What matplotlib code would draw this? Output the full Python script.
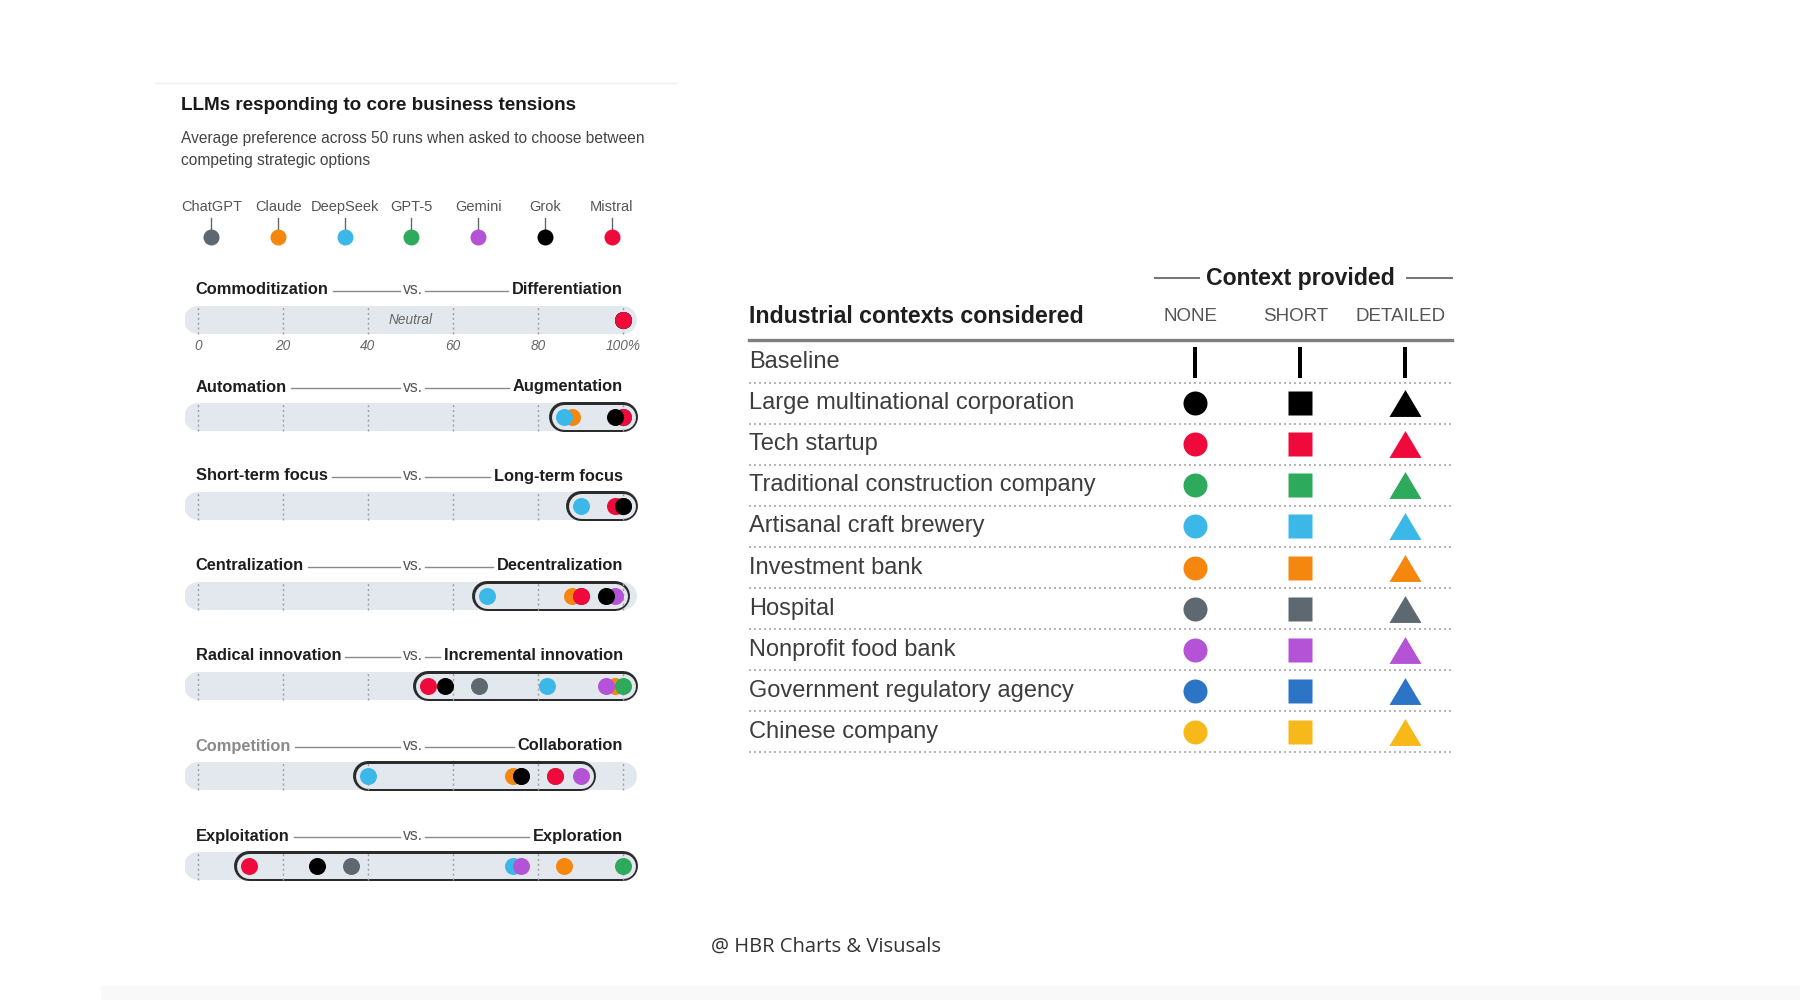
import matplotlib
matplotlib.use("Agg")
import matplotlib.pyplot as plt
from matplotlib.lines import Line2D
from matplotlib.patches import Rectangle
from matplotlib.transforms import blended_transform_factory

W, H = 1800, 1000
SANS = ["Liberation Sans", "DejaVu Sans"]

# ---- data: left panel ----
models = ["ChatGPT", "Claude", "DeepSeek", "GPT-5", "Gemini", "Grok", "Mistral"]
model_colors = ["#5d6870", "#f5870f", "#3cb8e8", "#2eaa5c", "#b453d6", "#000000", "#ef0a3b"]

tension_left = ["Commoditization", "Automation", "Short-term focus", "Centralization",
                "Radical innovation", "Competition", "Exploitation"]
tension_right = ["Differentiation", "Augmentation", "Long-term focus", "Decentralization",
                 "Incremental innovation", "Collaboration", "Exploration"]

# average preference (%) for the right-hand option, one value per tension
chatgpt = [100, 100, 100, 90, 66, 76, 36]
claude = [100, 88, 99, 88, 98, 74, 86]
deepseek = [100, 86, 90, 68, 82, 40, 74]
gpt5 = [100, 100, 100, 96, 100, 84, 100]
gemini = [100, 100, 100, 98, 96, 90, 76]
grok = [100, 98, 100, 96, 58, 76, 28]
mistral = [100, 100, 98, 90, 54, 84, 12]
prefs = [chatgpt, claude, deepseek, gpt5, gemini, grok, mistral]

scale_ticks = [0, 20, 40, 60, 80, 100]
scale_labels = ["0", "20", "40", "60", "80", "100%"]

# ---- data: right table ----
contexts = ["Baseline", "Large multinational corporation", "Tech startup",
            "Traditional construction company", "Artisanal craft brewery",
            "Investment bank", "Hospital", "Nonprofit food bank",
            "Government regulatory agency", "Chinese company"]
context_colors = ["#000000", "#000000", "#ef0a3b", "#2eaa5c", "#3cb8e8",
                  "#f5870f", "#5d6870", "#b453d6", "#2b74c6", "#f6b919"]
levels = ["NONE", "SHORT", "DETAILED"]
level_markers = ["o", "s", "^"]


def box(x0, y0, x1, y1):
    return [x0 / W, 1 - y1 / H, (x1 - x0) / W, (y1 - y0) / H]


def pt(px):
    return px * 72 / 100


fig = plt.figure(figsize=(18, 10), dpi=100)
fig.patch.set_facecolor("white")

# faint page decorations
fig.add_artist(Line2D([155 / W, 677 / W], [1 - 83 / H, 1 - 83 / H], color="#eeeeee", lw=1))
fig.add_artist(Rectangle((101 / W, 0), 1699 / W, 14 / H, color="#f9f9f9", lw=0))

# ---- left panel titles ----
fig.text(181 / W, 1 - 105 / H, "LLMs responding to core business tensions", family=SANS,
         weight="bold", fontsize=13.6, color="#1a1a1a", va="center")
fig.text(181 / W, 1 - 138 / H, "Average preference across 50 runs when asked to choose between",
         family=SANS, fontsize=11.2, color="#444444", va="center")
fig.text(181 / W, 1 - 160 / H, "competing strategic options",
         family=SANS, fontsize=11.2, color="#444444", va="center")

# legend
lax = fig.add_axes(box(178, 195, 645, 247))
lax.set_xlim(-0.5, len(models) - 0.5)
lax.set_ylim(247, 195)
lax.axis("off")
for i, (m, c) in enumerate(zip(models, model_colors)):
    lax.text(i, 207, m, family=SANS, fontsize=10.5, color="#555555", ha="center", va="center")
    lax.plot([i, i], [218, 230], color="#666666", lw=1)
    lax.plot(i, 237, "o", ms=pt(16), color=c, mec="none")

# ---- tension rows ----
BAR = "#e3e7ee"
bar_y = [320, 417, 506, 596, 686, 776, 866]
X0, X100 = 198, 623
ppu = (X100 - X0) / 100
draw_order = ["Claude", "ChatGPT", "DeepSeek", "Gemini", "GPT-5", "Mistral", "Grok"]
header_sets = []
for r, yc in enumerate(bar_y):
    ax = fig.add_axes(box(185, yc - 18, 638, yc + 18))
    ax.set_xlim((185 - X0) / ppu, (638 - X0) / ppu)
    ax.set_ylim(-1, 1)
    ax.axis("off")
    vals = [p[r] for p in prefs]

    ax.plot([0, 100], [0, 0], color=BAR, lw=pt(28), solid_capstyle="round", zorder=1)
    lo, hi = min(vals), max(vals)
    ax.plot([lo, hi], [0, 0], color="#2b2b2b", lw=pt(30), solid_capstyle="round", zorder=2)
    ax.plot([lo, hi], [0, 0], color=BAR, lw=pt(25), solid_capstyle="round", zorder=3)
    ax.vlines(scale_ticks, -0.75, 0.75, colors="#a0a0a0", linestyles=(0, (1.5, 2)), lw=1, zorder=4)

    order = list(draw_order)
    if r == 0:
        order.remove("Mistral")
        order.append("Mistral")
    for k, name in enumerate(order):
        i = models.index(name)
        ax.plot(vals[i], 0, "o", ms=pt(17), color=model_colors[i], mec="none", zorder=5 + k)

    if r == 0:
        ax.text(50, 0, "Neutral", family=SANS, style="italic", fontsize=9.8,
                color="#666666", ha="center", va="center", zorder=4)
        for v, lab in zip(scale_ticks, scale_labels):
            ax.text(v, -1.46, lab, family=SANS, style="italic", fontsize=9.8,
                    color="#666666", ha="center", va="center", clip_on=False)

    hy = 1 + 12 / 18
    lcol = "#8a8a8a" if tension_left[r] == "Competition" else "#1e1e1e"
    t1 = ax.text(-0.5, hy, tension_left[r], family=SANS, weight="bold", fontsize=11.8,
                 color=lcol, ha="left", va="center", clip_on=False)
    t2 = ax.text(50.6, hy, "vs.", family=SANS, fontsize=11.3, color="#555555",
                 ha="center", va="center", clip_on=False)
    t3 = ax.text(100, hy, tension_right[r], family=SANS, weight="bold", fontsize=11.8,
                 color="#1e1e1e", ha="right", va="center", clip_on=False)
    header_sets.append((t1, t2, t3))

# ---- right table ----
C0, CSTEP, R0, RSTEP = 1195, 105.0, 362, 41.1
TL, TR, TT, TB = 749, 1452, 340, 752
tax = fig.add_axes(box(TL, TT, TR, TB))
tax.set_xlim((TL - C0) / CSTEP, (TR - C0) / CSTEP)
tax.set_ylim((TB - R0) / RSTEP, (TT - R0) / RSTEP)
tax.axis("off")
tr = blended_transform_factory(tax.transAxes, tax.transData)

tri = [(0, 0.84), (-1, -0.84), (1, -0.84), (0, 0.84)]
marker_shape = {"o": ("o", 24), "s": ("s", 24), "^": (tri, 32)}

tax.plot([0, 1], [1, 1], transform=tax.transAxes, color="#7f7f7f", lw=2.4, clip_on=False)
for i, (name, c) in enumerate(zip(contexts, context_colors)):
    tax.text(0, i, name, transform=tr, family=SANS, fontsize=17, color="#3d3d3d",
             ha="left", va="center")
    tax.plot([0, 1], [i + 0.5, i + 0.5], transform=tr, color="#a8a8a8", lw=1.2,
             ls=(0, (1.2, 1.8)), clip_on=False)
    for j, mk in enumerate(level_markers):
        if i == 0:
            tax.plot(j, i, marker="|", ms=pt(31), mew=pt(4), color=c)
        else:
            shape, size = marker_shape[mk]
            tax.plot(j, i, marker=shape, ms=pt(size), color=c, mec="none")

hdr_y = (316 - R0) / RSTEP
tax.text(0, hdr_y, "Industrial contexts considered", transform=tr, family=SANS,
         weight="bold", fontsize=16.7, color="#1e1e1e", ha="left", va="center")
for j, lev in enumerate(levels):
    tax.text(j - 0.04, hdr_y, lev, family=SANS, fontsize=13.5, color="#555555",
             ha="center", va="center", clip_on=False)
ctx_y = (278 - R0) / RSTEP
ctx = tax.text(1, ctx_y, "Context provided", family=SANS, weight="bold", fontsize=16.6,
               color="#1e1e1e", ha="center", va="center", clip_on=False)

# footer
fig.text(826 / W, 1 - 947 / H, "@ HBR Charts & Visusals", family=["Open Sans", "DejaVu Sans"],
         fontsize=14.5, color="#333333", ha="center", va="center")

# connector lines need the rendered text extents
fig.canvas.draw()
inv = fig.transFigure.inverted()


def hline(xa, xb, y, color="#8a8a8a", lw=1):
    (fa, fy), (fb, _) = inv.transform([(xa, y), (xb, y)])
    fig.add_artist(Line2D([fa, fb], [fy, fy], color=color, lw=lw))


for t1, t2, t3 in header_sets:
    b1, b2, b3 = (t.get_window_extent() for t in (t1, t2, t3))
    y = (b2.y0 + b2.y1) / 2 - 1
    hline(b1.x1 + 4, b2.x0 - 3, y)
    hline(b2.x1 + 2, b3.x0 - 4, y)

bc = ctx.get_window_extent()
hline(1155, bc.x0 - 7, H - 278, color="#777777", lw=1.5)
hline(bc.x1 + 13, TR, H - 278, color="#777777", lw=1.5)

fig.savefig("out.png", dpi=100, facecolor="white")
